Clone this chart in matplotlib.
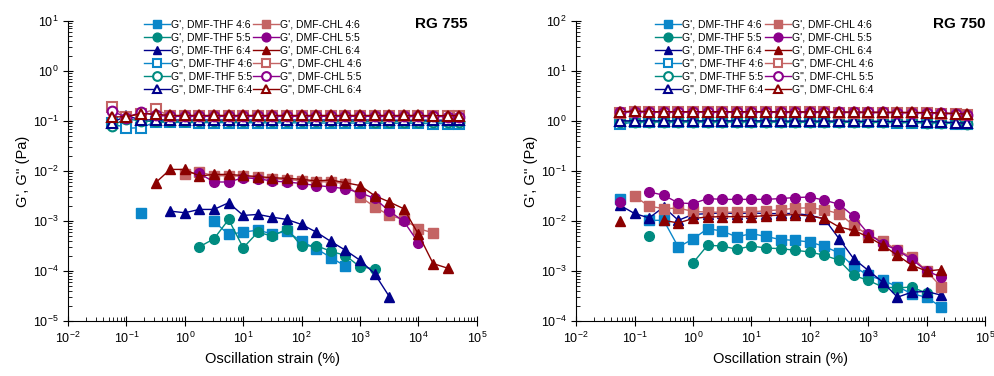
import numpy as np
import matplotlib
matplotlib.use("Agg")
import matplotlib.pyplot as plt

plt.rcParams['font.family'] = ['Liberation Sans', 'DejaVu Sans']
plt.rcParams['mathtext.fontset'] = 'custom'
plt.rcParams['mathtext.rm'] = 'Liberation Sans'

nan = np.nan

# oscillation strain (%) - same grid for both samples
strain = [0.0562, 0.1, 0.178, 0.316, 0.562, 1.0, 1.78, 3.16, 5.62, 10, 17.8, 31.6,
          56.2, 100, 178, 316, 562, 1000, 1780, 3160, 5620, 10000, 17800, 31600, 50000]

labels = ["DMF-THF 4:6", "DMF-THF 5:5", "DMF-THF 6:4",
          "DMF-CHL 4:6", "DMF-CHL 5:5", "DMF-CHL 6:4"]
colors = ['#0a86c9', '#008b80', '#00008b', '#c46464', '#8b008b', '#8b0000']
markers = ['s', 'o', '^', 's', 'o', '^']

# ---------------- RG 755 ----------------
# G' (storage modulus)
g1_755_thf46 = [nan, nan, 0.00146, nan, nan, nan, nan, 0.00098, 0.000537, 0.0006, 0.000655,
                0.00055, 0.000617, 0.000389, 0.00028, 0.000186, 0.000125, nan, nan, nan,
                nan, nan, nan, nan, nan]
g1_755_thf55 = [nan, nan, nan, nan, nan, nan, 0.000305, 0.00044, 0.00107, 0.000291, 0.000597,
                0.000497, 0.000698, 0.000313, 0.00032, 0.000249, 0.000204, 0.000121,
                0.000111, nan, nan, nan, nan, nan, nan]
g1_755_thf64 = [nan, nan, nan, nan, 0.00157, 0.00146, 0.0017, 0.0017, 0.00231, 0.00129,
                0.00135, 0.00119, 0.00107, 0.00085, 0.0006, 0.00039, 0.00026, 0.000164,
                8.8e-5, 3.1e-5, nan, nan, nan, nan, nan]
g1_755_chl46 = [nan, nan, nan, nan, nan, 0.0085, 0.0095, 0.0080, 0.0080, 0.0078, 0.0074,
                0.0070, 0.0067, 0.0064, 0.0061, 0.0060, 0.0056, 0.00305, 0.00192, 0.00129,
                0.00107, 0.0007, 0.00058, nan, nan]
g1_755_chl55 = [nan, nan, nan, nan, nan, nan, 0.0089, 0.006, 0.006, 0.0073, 0.007, 0.00625,
                0.006, 0.0056, 0.0051, 0.0048, 0.0044, 0.00366, 0.00282, 0.00157, 0.00098,
                0.000366, nan, nan, nan]
g1_755_chl64 = [nan, nan, nan, 0.0058, 0.0107, 0.0107, 0.0079, 0.0085, 0.0085, 0.0081,
                0.0077, 0.0073, 0.0071, 0.0068, 0.0063, 0.0066, 0.0058, 0.0051, 0.0032,
                0.0024, 0.00175, 0.00054, 0.000141, 0.000114, nan]
# G'' (loss modulus)
g2_755_thf46 = [0.09, 0.071, 0.073, 0.095, 0.093, 0.093, 0.092, 0.092, 0.092, 0.092, 0.091,
                0.091, 0.091, 0.091, 0.090, 0.090, 0.090, 0.090, 0.089, 0.089, 0.089,
                0.089, 0.088, 0.088, 0.088]
g2_755_thf55 = [0.08, 0.11, 0.099, 0.097, 0.097, 0.097, 0.097, 0.097, 0.097, 0.097, 0.097,
                0.097, 0.097, 0.097, 0.097, 0.097, 0.097, 0.097, 0.096, 0.096, 0.096,
                0.096, 0.096, 0.095, 0.095]
g2_755_thf64 = [0.092, 0.125, 0.105, 0.104, 0.104, 0.104, 0.104, 0.104, 0.104, 0.104, 0.104,
                0.104, 0.104, 0.104, 0.104, 0.104, 0.104, 0.104, 0.104, 0.103, 0.103,
                0.103, 0.103, 0.103, 0.103]
g2_755_chl46 = [0.19, 0.12, 0.14, 0.17, 0.125, 0.125, 0.125, 0.125, 0.125, 0.125, 0.125,
                0.125, 0.125, 0.125, 0.125, 0.125, 0.125, 0.125, 0.125, 0.124, 0.124,
                0.124, 0.124, 0.123, 0.123]
g2_755_chl55 = [0.16, 0.115, 0.15, 0.13, 0.123, 0.123, 0.123, 0.123, 0.123, 0.123, 0.123,
                0.123, 0.123, 0.123, 0.123, 0.123, 0.123, 0.123, 0.123, 0.122, 0.122,
                0.122, 0.122, 0.121, 0.121]
g2_755_chl64 = [0.12, 0.12, 0.14, 0.135, 0.128, 0.128, 0.128, 0.128, 0.128, 0.128, 0.128,
                0.128, 0.128, 0.128, 0.128, 0.128, 0.128, 0.128, 0.128, 0.128, 0.128,
                0.128, 0.127, 0.127, 0.127]

# ---------------- RG 750 ----------------
g1_750_thf46 = [0.028, nan, 0.0103, 0.0103, 0.0030, 0.00437, 0.0070, 0.0063, 0.0048, 0.0056,
                0.0049, 0.00425, 0.0041, 0.0038, 0.0031, 0.0023, 0.00124, 0.00082, 0.00065,
                0.00049, 0.00035, 0.0003, 0.00019, nan, nan]
g1_750_thf55 = [nan, nan, 0.005, nan, nan, 0.00145, 0.00327, 0.00316, 0.00272, 0.00316,
                0.00288, 0.0028, 0.0026, 0.0024, 0.00206, 0.00164, 0.00082, 0.00065,
                0.00048, 0.00046, 0.00048, 0.00036, nan, nan, nan]
g1_750_thf64 = [0.0206, 0.0141, 0.0115, 0.019, 0.0103, 0.0135, 0.014, 0.0145, 0.014, 0.0145,
                0.014, 0.0141, 0.0141, 0.013, 0.011, 0.00445, 0.00177, 0.00103, 0.0006,
                0.0003, 0.00038, 0.00039, 0.00033, nan, nan]
g1_750_chl46 = [nan, 0.0312, 0.0197, 0.0177, 0.018, 0.0156, 0.015, 0.015, 0.015, 0.0152,
                0.016, 0.0167, 0.018, 0.0183, 0.0167, 0.014, 0.0082, 0.0052, 0.0040,
                0.0026, 0.0019, 0.001, 0.00048, nan, nan]
g1_750_chl55 = [0.024, nan, 0.038, 0.0327, 0.0229, 0.0222, 0.028, 0.027, 0.027, 0.027,
                0.027, 0.028, 0.0294, 0.030, 0.026, 0.0216, 0.0124, 0.0056, 0.00353,
                0.0026, 0.0017, 0.001, 0.00076, nan, nan]
g1_750_chl64 = [0.01, nan, nan, 0.0103, 0.0091, 0.0112, 0.012, 0.0122, 0.0122, 0.0122,
                0.0128, 0.013, 0.0134, 0.0125, 0.0112, 0.0076, 0.0065, 0.0048, 0.00327,
                0.00206, 0.0013, 0.001, 0.00107, nan, nan]
g2_750_thf46 = [0.85, 0.95, 0.95, 0.95, 0.95, 0.95, 0.95, 0.95, 0.95, 0.95, 0.95, 0.94,
                0.94, 0.94, 0.94, 0.94, 0.93, 0.93, 0.93, 0.92, 0.92, 0.91, 0.91, 0.88, 0.85]
g2_750_thf55 = [0.95, 0.96, 0.96, 0.96, 0.96, 0.96, 0.96, 0.96, 0.96, 0.96, 0.96, 0.95,
                0.95, 0.95, 0.95, 0.95, 0.94, 0.94, 0.94, 0.93, 0.93, 0.92, 0.92, 0.89, 0.87]
g2_750_thf64 = [1.0, 1.0, 1.0, 1.0, 1.0, 1.0, 1.0, 1.0, 1.0, 1.0, 1.0, 0.99, 0.99, 0.99,
                0.99, 0.99, 0.98, 0.98, 0.98, 0.97, 0.97, 0.96, 0.95, 0.92, 0.89]
g2_750_chl46 = [1.45, 1.5, 1.48, 1.48, 1.48, 1.48, 1.48, 1.48, 1.48, 1.48, 1.48, 1.47,
                1.47, 1.47, 1.47, 1.46, 1.46, 1.45, 1.45, 1.44, 1.43, 1.42, 1.40, 1.36, 1.32]
g2_750_chl55 = [1.48, 1.53, 1.5, 1.5, 1.5, 1.5, 1.5, 1.5, 1.5, 1.5, 1.5, 1.49, 1.49, 1.49,
                1.49, 1.48, 1.48, 1.47, 1.47, 1.46, 1.45, 1.44, 1.42, 1.38, 1.33]
g2_750_chl64 = [1.5, 1.58, 1.52, 1.52, 1.52, 1.52, 1.52, 1.52, 1.52, 1.52, 1.52, 1.51,
                1.51, 1.51, 1.51, 1.50, 1.50, 1.49, 1.49, 1.48, 1.47, 1.46, 1.44, 1.40, 1.35]

panels = [
    ("RG 755", 0.978, (1e-5, 1e1),
     [g1_755_thf46, g1_755_thf55, g1_755_thf64, g1_755_chl46, g1_755_chl55, g1_755_chl64],
     [g2_755_thf46, g2_755_thf55, g2_755_thf64, g2_755_chl46, g2_755_chl55, g2_755_chl64]),
    ("RG 750", 1.0, (1e-4, 1e2),
     [g1_750_thf46, g1_750_thf55, g1_750_thf64, g1_750_chl46, g1_750_chl55, g1_750_chl64],
     [g2_750_thf46, g2_750_thf55, g2_750_thf64, g2_750_chl46, g2_750_chl55, g2_750_chl64]),
]

fig = plt.figure(figsize=(9.95, 3.76), dpi=100)
positions = [[0.0683, 0.146, 0.411, 0.799], [0.579, 0.146, 0.411, 0.799]]
legend_x = [0.173, 0.181]

for pos, lx, (title, tx, ylim, g1_sets, g2_sets) in zip(positions, legend_x, panels):
    ax = fig.add_axes(pos)
    handles = []
    for i in range(6):
        h, = ax.plot(strain, g1_sets[i], color=colors[i], marker=markers[i], markersize=7,
                     linewidth=1.0, markeredgewidth=1.0, label="G', " + labels[i])
        handles.append(h)
    for i in range(6):
        h, = ax.plot(strain, g2_sets[i], color=colors[i], marker=markers[i], markersize=7,
                     linewidth=1.0, markeredgewidth=1.5, markerfacecolor='white',
                     label='G", ' + labels[i])
        handles.append(h)

    ax.set_xscale('log')
    ax.set_yscale('log')
    ax.set_xlim(1e-2, 1e5)
    ax.set_ylim(*ylim)
    ax.spines['top'].set_visible(False)
    ax.spines['right'].set_visible(False)
    ax.tick_params(which='both', labelsize=9)
    ax.tick_params(which='major', direction='inout', length=7)
    ax.tick_params(which='minor', direction='in', length=3)
    ax.set_xlabel('Oscillation strain (%)', fontsize=10.5, labelpad=4)
    ax.set_ylabel("G', G'' (Pa)", fontsize=10.5, labelpad=2)

    # legend order: column 1 THF, column 2 CHL
    order = [0, 1, 2, 6, 7, 8, 3, 4, 5, 9, 10, 11]
    ax.legend([handles[j] for j in order], [handles[j].get_label() for j in order],
              ncol=2, frameon=False, fontsize=7.5, loc='upper left',
              bbox_to_anchor=(lx, 1.02), labelspacing=0.28, handlelength=2.5,
              handletextpad=0.1, columnspacing=0.1, borderpad=0, markerscale=0.9)
    ax.text(tx, 0.99, title, transform=ax.transAxes, ha='right', va='center',
            fontsize=11, fontweight='bold')

fig.savefig('out.png', dpi=100)
